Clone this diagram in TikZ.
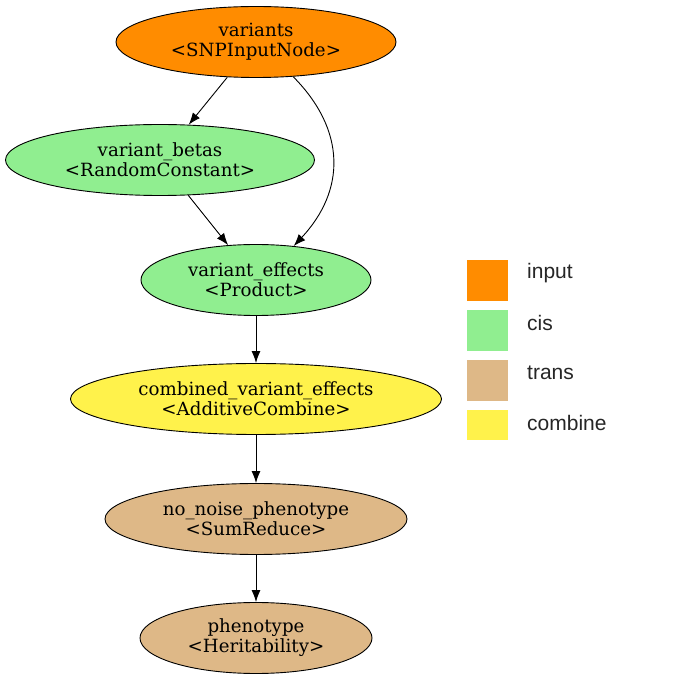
\documentclass[tikz,border=0pt]{standalone}
\usepackage{fontspec}
\setmainfont{DejaVu Serif}
\newfontfamily\legfont{Liberation Sans}
\usetikzlibrary{shapes.geometric,arrows.meta}
\definecolor{cinput}{HTML}{FF8C00}
\definecolor{ccis}{HTML}{90EE90}
\definecolor{ctrans}{HTML}{DEB887}
\definecolor{ccomb}{HTML}{FFF24B}
\tikzset{
  gnode/.style={ellipse, draw=black, line width=0.9pt, inner sep=0pt,
    minimum width=#1, minimum height=71pt, align=center,
    font=\fontsize{18.2}{20}\selectfont},
  garrow/.style={-{Latex[length=12pt,width=9pt]}, line width=0.9pt},
  legbox/.style={draw=none, inner sep=0pt, minimum width=41pt},
  legtext/.style={anchor=west, inner sep=0pt, text=black!85, font=\legfont\fontsize{21}{24}\selectfont}
}
\begin{document}
\begin{tikzpicture}[x=1pt,y=1pt]
\useasboundingbox (0,0) rectangle (697,681);
\fill[white] (0,0) rectangle (697,681);
\node[gnode=280pt, fill=cinput] (v) at (256,639) {variants\\<SNPInputNode>};
\node[gnode=309pt, fill=ccis] (b) at (160,521) {variant\_betas\\<RandomConstant>};
\node[gnode=230pt, fill=ccis] (e) at (256,401) {variant\_effects\\<Product>};
\node[gnode=371pt, fill=ccomb] (c) at (256,282) {combined\_variant\_effects\\<AdditiveCombine>};
\node[gnode=302pt, fill=ctrans] (n) at (256,162) {no\_noise\_phenotype\\<SumReduce>};
\node[gnode=232pt, fill=ctrans] (p) at (256,43) {phenotype\\<Heritability>};
\draw[garrow] (v) -- (b);
\draw[garrow] (b) -- (e);
\draw[garrow] (v.-43) .. controls (346,551) and (346,491) .. (e.42);
\draw[garrow] (e) -- (c);
\draw[garrow] (c) -- (n);
\draw[garrow] (n) -- (p);
% legend
\node[legbox, fill=cinput, minimum height=41pt] (l1) at (487.5,400.5) {};
\node[legbox, fill=ccis, minimum height=41pt] (l2) at (487.5,350.5) {};
\node[legbox, fill=ctrans, minimum height=41pt] (l3) at (487.5,300.5) {};
\node[legbox, fill=ccomb, minimum height=30pt] (l4) at (487.5,256) {};
\node[legtext] (t1) at (527,408) {input};
\node[legtext] (t2) at (527,358) {cis};
\node[legtext] (t3) at (527,308) {trans};
\node[legtext] (t4) at (527,258) {combine};
\end{tikzpicture}
\end{document}
